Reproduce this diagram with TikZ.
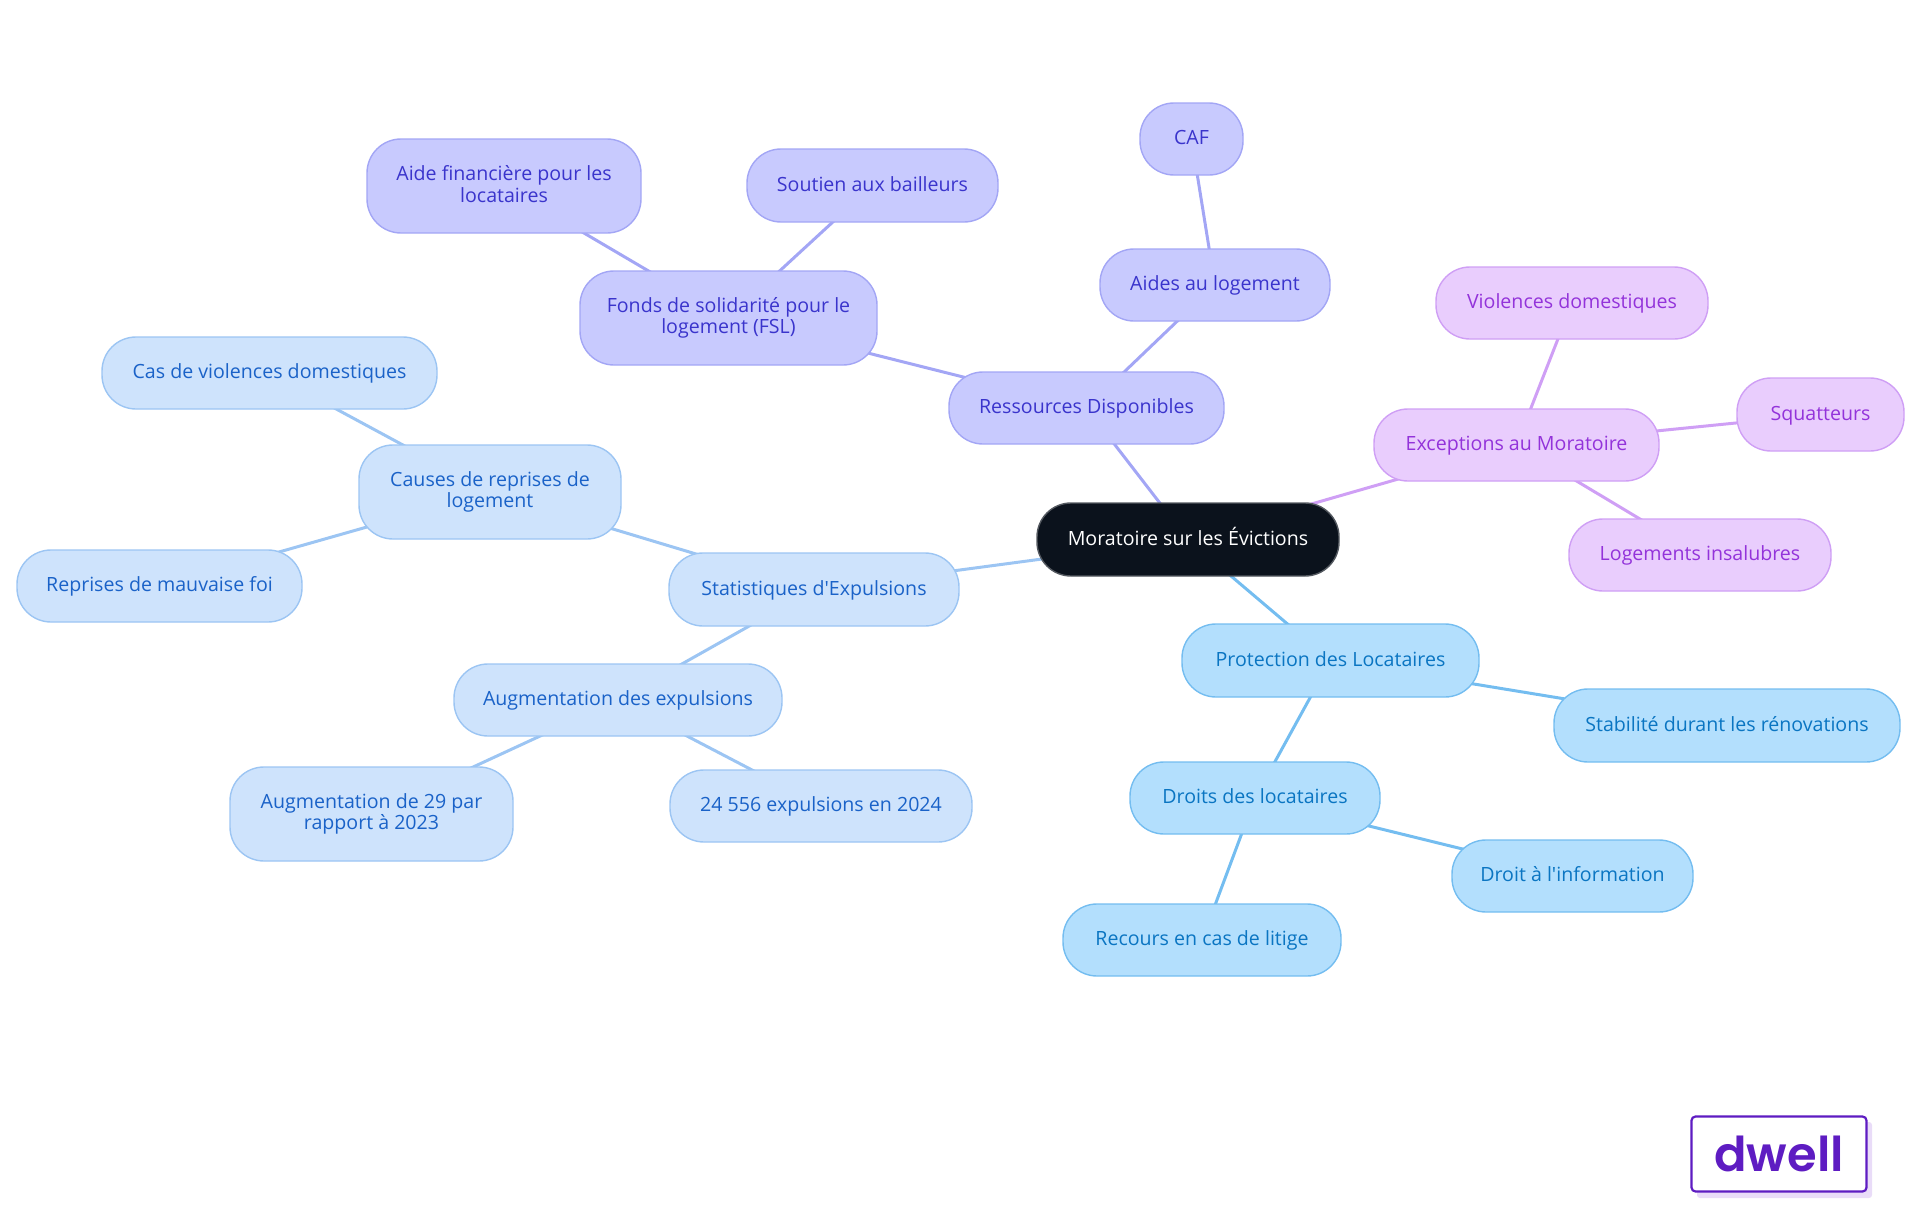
\documentclass[tikz,border=0pt]{standalone}
\usepackage{fontspec}
\setmainfont{Open Sans}[Ligatures=TeXOff]
\newfontfamily\logofont{Poppins SemiBold}
\usetikzlibrary{backgrounds}
\definecolor{indF}{HTML}{C8CAFE}\definecolor{indS}{HTML}{A3A6F5}\definecolor{indT}{HTML}{3A34CC}
\definecolor{purF}{HTML}{E9CDFD}\definecolor{purS}{HTML}{CF9FF5}\definecolor{purT}{HTML}{9333DA}
\definecolor{bluF}{HTML}{CEE3FC}\definecolor{bluS}{HTML}{9CC5F3}\definecolor{bluT}{HTML}{1A62C8}
\definecolor{skyF}{HTML}{B3DFFD}\definecolor{skyS}{HTML}{74BDF0}\definecolor{skyT}{HTML}{0A75C2}
\definecolor{darkF}{HTML}{0B121C}\definecolor{logoC}{HTML}{5E1CC2}\definecolor{logoS}{HTML}{E9DCF8}
\tikzset{
 x=1pt,y=-1pt,
 box/.style={rectangle,rounded corners=34pt,inner sep=0pt,line width=1.4pt,align=center,font=\fontsize{19.6}{21.5}\selectfont},
 one/.style={text height=16.5pt,text depth=5pt},
 ind/.style={box,fill=indF,draw=indS,text=indT},
 pur/.style={box,fill=purF,draw=purS,text=purT},
 blu/.style={box,fill=bluF,draw=bluS,text=bluT},
 sky/.style={box,fill=skyF,draw=skyS,text=skyT},
 rootbox/.style={box,fill=darkF,draw=darkF!70!white,text=white},
 lnk/.style={line width=3pt},
}
\newcommand{\bx}[7]{\node[#1,minimum width=#5pt-#4pt,minimum height=#7pt-#6pt] (#2) at ({(#4+#5)/2},{(#6+#7)/2}) {#3};}
\newcommand{\twol}[2]{\rule{0pt}{15pt}#1\\#2\rule[-4.5pt]{0pt}{4.5pt}}
\begin{document}
\begin{tikzpicture}
\useasboundingbox (0,0) rectangle (1920,1215);
\bx{rootbox,one}{root}{Moratoire sur les Évictions}{1037}{1339}{503}{576}
\bx{ind,one}{res}{Ressources Disponibles}{949}{1224}{372}{444}
\bx{ind,one}{aid}{Aides au logement}{1100}{1330}{249}{321}
\bx{ind,one}{caf}{CAF}{1140}{1243}{103}{175}
\bx{ind}{fsl}{\twol{Fonds de solidarité pour le}{logement (FSL)}}{580}{877}{271}{365}
\bx{ind}{fin}{\twol{Aide financière pour les}{locataires}}{367}{641}{139}{233}
\bx{ind,one}{sou}{Soutien aux bailleurs}{747}{998}{149}{222}
\bx{pur,one}{exc}{Exceptions au Moratoire}{1374}{1659}{409}{481}
\bx{pur,one}{vio}{Violences domestiques}{1436}{1708}{267}{339}
\bx{pur,one}{squ}{Squatteurs}{1737}{1904}{378}{451}
\bx{pur,one}{ins}{Logements insalubres}{1569}{1831}{519}{591}
\bx{blu,one}{sta}{Statistiques d'Expulsions}{669}{959}{553}{626}
\bx{blu}{cau}{\twol{Causes de reprises de}{logement}}{359}{621}{445}{539}
\bx{blu,one}{cas}{Cas de violences domestiques}{102}{437}{337}{409}
\bx{blu,one}{rep}{Reprises de mauvaise foi}{17}{302}{550}{622}
\bx{blu,one}{aug}{Augmentation des expulsions}{454}{782}{664}{736}
\bx{blu}{a29}{\twol{Augmentation de 29 par}{rapport à 2023}}{230}{513}{767}{861}
\bx{blu,one}{exp}{24 556 expulsions en 2024}{670}{972}{770}{842}
\bx{sky,one}{pro}{Protection des Locataires}{1182}{1479}{624}{697}
\bx{sky,one}{sta2}{Stabilité durant les rénovations}{1554}{1900}{689}{762}
\bx{sky,one}{dro}{Droits des locataires}{1130}{1380}{762}{834}
\bx{sky,one}{inf}{Droit à l'information}{1452}{1693}{840}{912}
\bx{sky,one}{rec}{Recours en cas de litige}{1063}{1341}{904}{976}
\begin{scope}[on background layer]
\draw[lnk,draw=indS] (root.center)--(res.center) (res.center)--(aid.center) (aid.center)--(caf.center) (res.center)--(fsl.center) (fsl.center)--(fin.center) (fsl.center)--(sou.center);
\draw[lnk,draw=purS] (root.center)--(exc.center) (exc.center)--(vio.center) (exc.center)--(squ.center) (exc.center)--(ins.center);
\draw[lnk,draw=bluS] (root.center)--(sta.center) (sta.center)--(cau.center) (cau.center)--(cas.center) (cau.center)--(rep.center) (sta.center)--(aug.center) (aug.center)--(a29.center) (aug.center)--(exp.center);
\draw[lnk,draw=skyS] (root.center)--(pro.center) (pro.center)--(sta2.center) (pro.center)--(dro.center) (dro.center)--(inf.center) (dro.center)--(rec.center);
\end{scope}
\fill[logoS,rounded corners=3pt] (1697,1122) rectangle (1872,1198);
\node[rectangle,rounded corners=4pt,draw=logoC,fill=white,line width=2.2pt,minimum width=175pt,minimum height=75pt,inner sep=0pt,text=logoC,font=\logofont\fontsize{48}{48}\selectfont] (logo) at (1779,1154) {dwell};
\end{tikzpicture}
\end{document}
